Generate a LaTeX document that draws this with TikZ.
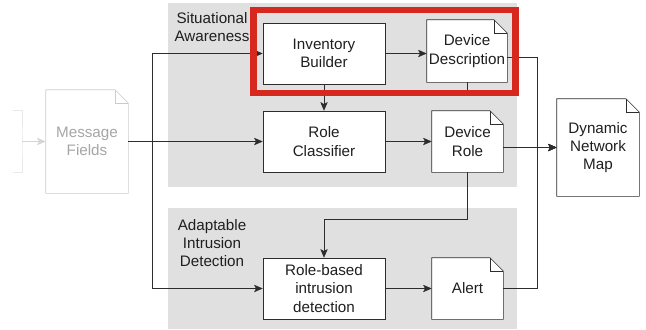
\documentclass[tikz,border=0pt]{standalone}
\usepackage{fontspec}
\setmainfont{Liberation Sans}
\usetikzlibrary{positioning, arrows.meta, calc}

\pgfdeclarelayer{panel}
\pgfdeclarelayer{docs}
\pgfsetlayers{panel,docs,main}

\definecolor{panelgray}{RGB}{224,224,224}
\definecolor{markred}{RGB}{214,40,30}
\definecolor{edgegray}{RGB}{45,45,45}

\begin{document}
\begin{tikzpicture}[
    x=0.75pt, y=-0.75pt,
    line width=0.75pt,
    font=\fontsize{11.4}{13.6}\selectfont,
    every node/.style={text=black!88},
    block/.style={draw=edgegray, rectangle, minimum width=91.5pt, minimum height=45.75pt, align=center, fill=white, inner sep=1pt},
    doc/.style={rectangle, align=center, inner sep=1pt,
        append after command={\pgfextra{
            \begin{pgfonlayer}{docs}
            \draw[draw=#1, fill=white] (\tikzlastnode.north west) -- ([xshift=-10pt]\tikzlastnode.north east)
                -- ([yshift=-10pt]\tikzlastnode.north east) -- (\tikzlastnode.south east) -- (\tikzlastnode.south west) -- cycle;
            \draw[draw=#1] ([xshift=-10pt]\tikzlastnode.north east) |- ([yshift=-10pt]\tikzlastnode.north east);
            \end{pgfonlayer}}}},
    doc/.default=edgegray,
    flow/.style={draw=edgegray, -{Stealth[length=6.5pt, width=5.5pt, inset=1.5pt]}},
    link/.style={draw=edgegray},
    panel/.style={fill=panelgray, draw=none},
    grouplabel/.style={align=center}
]
    \useasboundingbox (0,0) rectangle (646,329);

    % ================= GROUPS =================
    \begin{pgfonlayer}{panel}
        \path[panel] (168,3) rectangle (517,187);
        \path[panel] (168,208) rectangle (517,329);
    \end{pgfonlayer}
    \node[grouplabel] (sa_lbl) at (212,27) {Situational\\Awareness};
    \node[grouplabel] (aid_lbl) at (212,243) {Adaptable\\Intrusion\\Detection};

    % ================= PROCESSES =================
    \node[block] (ib) at (324,53.5) {Inventory\\Builder};
    \node[block] (rc) at (324,141.5) {Role\\Classifier};
    \node[block] (rbid) at (324,288.5) {Role-based\\intrusion\\detection};

    % ================= DOCUMENTS =================
    \node[doc=black!20, text=black!35, minimum width=61.5pt, minimum height=77.25pt] (msg) at (87,141.5) {Message\\Fields};
    \node[doc, minimum width=60pt, minimum height=46.5pt] (dd) at (467,51) {Device\\Description};
    \node[doc, minimum width=53.25pt, minimum height=45.75pt] (dr) at (467.5,141.5) {Device\\Role};
    \node[doc, minimum width=53.25pt, minimum height=45.75pt] (alert) at (467.5,288.5) {Alert};
    \node[doc, minimum width=61.5pt, minimum height=72.75pt] (map) at (598,147.5) {Dynamic\\Network\\Map};

    % ================= CONNECTIONS =================
    \coordinate (tap) at (22,141.5);
    \coordinate (fork) at (152,141.5);
    \coordinate (drop) at (467.5,219);
    \coordinate (merge) at (537,147.5);

    % faded input from upstream
    \draw[draw=black!9] (13,110) -| (tap) |- (13,172);
    \draw[draw=black!16, -{Stealth[length=6.5pt, width=5.5pt, inset=1.5pt]}] (tap) -- (msg.west);

    % Message Fields fan-out
    \draw[flow] (msg.east) -- (rc.west);
    \draw[flow] (msg.east) -- (fork) |- (ib.west);
    \draw[flow] (msg.east) -- (fork) |- (rbid.west);

    % Situational Awareness
    \draw[flow] (ib.east) -- (ib.east -| dd.west);
    \draw[flow] (ib.south) -- (rc.north);
    \draw[flow] (rc.east) -- (rc.east -| dr.west);
    \draw[link] (dd.south) -- ++(0,10);

    % Adaptable Intrusion Detection
    \draw[flow] (dr.south) -- (drop) -| (rbid.north);
    \draw[flow] (rbid.east) -- (rbid.east -| alert.west);

    % Dynamic Network Map
    \draw[flow] (dr.east |- map.west) -- (map.west);
    \draw[flow] ([yshift=-5pt]dd.east) -| (merge) -- (map.west);
    \draw[flow] (alert.east) -| (merge) -- (map.west);

    % ================= HIGHLIGHT =================
    \draw[draw=markred, line width=4.6pt] (253.5,10) rectangle (515.5,93);

\end{tikzpicture}
\end{document}
